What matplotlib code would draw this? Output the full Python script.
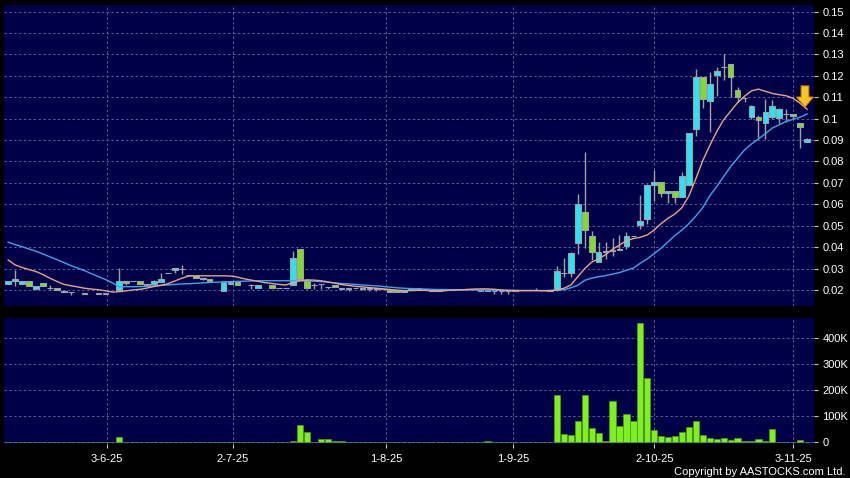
import numpy as np
import matplotlib
matplotlib.use('Agg')
import matplotlib.pyplot as plt
from matplotlib.patches import FancyArrow
from matplotlib.ticker import FuncFormatter

nan = np.nan

# daily candles (index 0 = oldest); NaN = no visible candle
opens = [0.0230, 0.0241, 0.0230, 0.0241, 0.0206, 0.0231, 0.0211, 0.0208, 0.0189, 0.0189,
         nan, 0.0187, nan, 0.0180, 0.0188, nan, 0.0200, 0.0240, 0.0242, 0.0242,
         0.0229, 0.0229, 0.0239, 0.0278, 0.0292, 0.0296, 0.0270, 0.0267, 0.0250, 0.0250,
         nan, 0.0197, 0.0229, 0.0239, nan, 0.0222, 0.0208, nan, 0.0222, 0.0208,
         0.0210, 0.0223, 0.0392, 0.0247, 0.0223, 0.0226, 0.0212, 0.0223, 0.0203, 0.0203,
         0.0208, 0.0203, 0.0210, 0.0210, 0.0203, 0.0200, 0.0200, 0.0189, 0.0200, 0.0211,
         0.0205, 0.0200, 0.0193, 0.0200, 0.0200, 0.0205, 0.0203, 0.0203, 0.0193, 0.0200,
         0.0193, 0.0193, 0.0193, 0.0193, 0.0200, 0.0200, 0.0200, 0.0200, 0.0200, 0.0200,
         0.0278, 0.0278, 0.0420, 0.0564, 0.0452, 0.0332, 0.0380, 0.0382, 0.0388, 0.0405,
         0.0452, 0.0502, 0.0530, 0.0689, 0.0705, 0.0652, 0.0661, 0.0633, 0.0689, 0.0951,
         0.1194, 0.1083, 0.1203, 0.1241, 0.1255, 0.1134, 0.1096, 0.1010, 0.1007, 0.0982,
         0.1010, 0.1002, 0.1024, 0.1024, 0.0982, 0.0891]
highs = [0.0240, 0.0293, 0.0240, 0.0241, 0.0220, 0.0231, 0.0225, 0.0208, 0.0197, 0.0189,
         nan, 0.0187, nan, 0.0187, 0.0188, nan, 0.0301, 0.0240, 0.0242, 0.0242,
         0.0229, 0.0248, 0.0278, 0.0278, 0.0301, 0.0315, 0.0272, 0.0267, 0.0257, 0.0250,
         nan, 0.0239, 0.0239, 0.0239, nan, 0.0226, 0.0222, nan, 0.0222, 0.0208,
         0.0210, 0.0382, 0.0392, 0.0250, 0.0232, 0.0230, 0.0216, 0.0223, 0.0211, 0.0210,
         0.0208, 0.0210, 0.0210, 0.0210, 0.0203, 0.0200, 0.0200, 0.0200, 0.0211, 0.0211,
         0.0205, 0.0200, 0.0200, 0.0200, 0.0205, 0.0205, 0.0205, 0.0203, 0.0200, 0.0200,
         0.0193, 0.0193, 0.0193, 0.0200, 0.0200, 0.0200, 0.0211, 0.0200, 0.0200, 0.0310,
         0.0348, 0.0376, 0.0650, 0.0846, 0.0475, 0.0425, 0.0425, 0.0443, 0.0458, 0.0470,
         0.0452, 0.0644, 0.0696, 0.0761, 0.0705, 0.0661, 0.0661, 0.0752, 0.0932, 0.1233,
         0.1194, 0.1219, 0.1241, 0.1301, 0.1255, 0.1150, 0.1096, 0.1063, 0.1017, 0.1092,
         0.1088, 0.1050, 0.1045, 0.1024, 0.0982, 0.0908]
lows = [0.0230, 0.0220, 0.0230, 0.0220, 0.0206, 0.0220, 0.0198, 0.0199, 0.0189, 0.0176,
        nan, 0.0180, nan, 0.0180, 0.0180, nan, 0.0195, 0.0225, 0.0242, 0.0229,
        0.0223, 0.0220, 0.0239, 0.0278, 0.0278, 0.0274, 0.0270, 0.0257, 0.0245, 0.0240,
        nan, 0.0197, 0.0229, 0.0223, nan, 0.0206, 0.0208, nan, 0.0208, 0.0208,
        0.0210, 0.0223, 0.0247, 0.0205, 0.0205, 0.0205, 0.0205, 0.0212, 0.0203, 0.0197,
        0.0208, 0.0200, 0.0197, 0.0197, 0.0203, 0.0189, 0.0189, 0.0189, 0.0200, 0.0205,
        0.0205, 0.0193, 0.0193, 0.0200, 0.0200, 0.0200, 0.0200, 0.0203, 0.0193, 0.0193,
        0.0182, 0.0182, 0.0182, 0.0193, 0.0200, 0.0200, 0.0200, 0.0200, 0.0195, 0.0195,
        0.0260, 0.0260, 0.0370, 0.0395, 0.0340, 0.0330, 0.0345, 0.0360, 0.0385, 0.0390,
        0.0452, 0.0485, 0.0510, 0.0617, 0.0635, 0.0605, 0.0605, 0.0633, 0.0689, 0.0920,
        0.1050, 0.0940, 0.1105, 0.1181, 0.1100, 0.1080, 0.1080, 0.1000, 0.0912, 0.0904,
        0.0998, 0.0980, 0.0985, 0.1000, 0.0862, 0.0891]
closes = [0.0240, 0.0250, 0.0240, 0.0220, 0.0220, 0.0220, 0.0211, 0.0199, 0.0197, 0.0189,
          nan, 0.0180, nan, 0.0187, 0.0180, nan, 0.0241, 0.0231, 0.0242, 0.0229,
          0.0223, 0.0242, 0.0251, 0.0278, 0.0301, 0.0296, 0.0270, 0.0257, 0.0257, 0.0243,
          nan, 0.0238, 0.0239, 0.0223, nan, 0.0222, 0.0222, nan, 0.0208, 0.0208,
          0.0210, 0.0348, 0.0250, 0.0208, 0.0223, 0.0226, 0.0212, 0.0212, 0.0211, 0.0210,
          0.0208, 0.0210, 0.0203, 0.0203, 0.0203, 0.0189, 0.0189, 0.0200, 0.0211, 0.0205,
          0.0205, 0.0193, 0.0200, 0.0200, 0.0205, 0.0203, 0.0205, 0.0203, 0.0200, 0.0193,
          0.0193, 0.0193, 0.0193, 0.0200, 0.0200, 0.0200, 0.0200, 0.0200, 0.0196, 0.0290,
          0.0278, 0.0371, 0.0600, 0.0480, 0.0379, 0.0379, 0.0375, 0.0388, 0.0392, 0.0452,
          0.0452, 0.0524, 0.0689, 0.0705, 0.0652, 0.0661, 0.0633, 0.0733, 0.0932, 0.1194,
          0.1091, 0.1163, 0.1223, 0.1241, 0.1193, 0.1100, 0.1096, 0.1057, 0.0995, 0.1029,
          0.1061, 0.1045, 0.1024, 0.1013, 0.0961, 0.0904]
# fix opens of first Sept candle
opens[79] = 0.0200

volumes = [500, 3000, 500, 500, 500, 500, 500, 500, 500, 500,
           0, 500, 0, 500, 500, 0, 22000, 1000, 500, 500,
           500, 500, 3000, 500, 500, 500, 500, 500, 500, 500,
           0, 1000, 500, 500, 0, 500, 500, 0, 500, 500,
           500, 4000, 67000, 42000, 1000, 12000, 13000, 5000, 5000, 3000,
           3000, 1000, 1000, 500, 500, 500, 500, 500, 2000, 500,
           500, 500, 500, 500, 500, 500, 500, 500, 500, 5000,
           3000, 500, 500, 3000, 500, 500, 1000, 2000, 500, 181000,
           32000, 28000, 81000, 181000, 55000, 36000, 5000, 161000, 63000, 108000,
           81000, 457000, 249000, 49000, 23000, 19000, 26000, 41000, 61000, 81000,
           28000, 18000, 13000, 18000, 10000, 17000, 5000, 5000, 12000, 5000,
           53000, 1000, 1000, 1000, 8000, 2000]

ma_short = [0.0340, 0.0317, 0.0305, 0.0295, 0.0286, 0.0272, 0.0255, 0.0240, 0.0226, 0.0220,
            0.0214, 0.0208, 0.0204, 0.0201, 0.0196, 0.0190, 0.0192, 0.0196, 0.0200, 0.0203,
            0.0209, 0.0216, 0.0222, 0.0229, 0.0242, 0.0255, 0.0265, 0.0266, 0.0266, 0.0266,
            0.0266, 0.0266, 0.0265, 0.0260, 0.0252, 0.0246, 0.0240, 0.0234, 0.0230, 0.0226,
            0.0223, 0.0235, 0.0243, 0.0247, 0.0246, 0.0243, 0.0238, 0.0232, 0.0225, 0.0221,
            0.0217, 0.0214, 0.0211, 0.0208, 0.0205, 0.0202, 0.0199, 0.0197, 0.0197, 0.0198,
            0.0198, 0.0196, 0.0195, 0.0197, 0.0199, 0.0200, 0.0202, 0.0204, 0.0205, 0.0205,
            0.0203, 0.0200, 0.0198, 0.0197, 0.0197, 0.0197, 0.0197, 0.0196, 0.0196, 0.0200,
            0.0208, 0.0223, 0.0262, 0.0300, 0.0330, 0.0345, 0.0365, 0.0390, 0.0410, 0.0430,
            0.0440, 0.0446, 0.0457, 0.0480, 0.0510, 0.0535, 0.0555, 0.0585, 0.0640, 0.0720,
            0.0805, 0.0875, 0.0940, 0.0995, 0.1035, 0.1075, 0.1105, 0.1130, 0.1138, 0.1128,
            0.1118, 0.1112, 0.1107, 0.1095, 0.1072, 0.1044]
ma_long = [0.0423, 0.0412, 0.0402, 0.0391, 0.0381, 0.0368, 0.0355, 0.0342, 0.0328, 0.0314,
           0.0302, 0.0290, 0.0276, 0.0262, 0.0249, 0.0233, 0.0215, 0.0215, 0.0215, 0.0216,
           0.0217, 0.0219, 0.0221, 0.0223, 0.0226, 0.0228, 0.0229, 0.0231, 0.0233, 0.0235,
           0.0236, 0.0238, 0.0239, 0.0240, 0.0241, 0.0242, 0.0243, 0.0243, 0.0243, 0.0243,
           0.0243, 0.0243, 0.0243, 0.0242, 0.0241, 0.0239, 0.0236, 0.0233, 0.0230, 0.0228,
           0.0226, 0.0223, 0.0221, 0.0219, 0.0216, 0.0213, 0.0210, 0.0208, 0.0206, 0.0205,
           0.0204, 0.0203, 0.0202, 0.0202, 0.0201, 0.0201, 0.0200, 0.0200, 0.0200, 0.0199,
           0.0199, 0.0198, 0.0198, 0.0198, 0.0197, 0.0197, 0.0197, 0.0197, 0.0198, 0.0199,
           0.0201, 0.0210, 0.0222, 0.0245, 0.0255, 0.0262, 0.0267, 0.0274, 0.0281, 0.0292,
           0.0302, 0.0325, 0.0345, 0.0370, 0.0395, 0.0425, 0.0455, 0.0480, 0.0510, 0.0545,
           0.0585, 0.0640, 0.0683, 0.0730, 0.0776, 0.0815, 0.0854, 0.0882, 0.0905, 0.0930,
           0.0956, 0.0972, 0.0987, 0.0997, 0.1007, 0.1022]

date_labels = ['3-6-25', '2-7-25', '1-8-25', '1-9-25', '2-10-25', '3-11-25']
date_pos = [14.2, 32.3, 54.4, 72.7, 93.0, 113.0]
price_ticks = [0.02, 0.03, 0.04, 0.05, 0.06, 0.07, 0.08, 0.09, 0.10, 0.11, 0.12, 0.13, 0.14, 0.15]
vol_ticks = [0, 100000, 200000, 300000, 400000]

o = np.array(opens, float)
h = np.array(highs, float)
l = np.array(lows, float)
c = np.array(closes, float)
v = np.array(volumes, float)
x = np.arange(len(o))

BG = '#000048'
GRID = '#5c5c90'
CYAN = '#2ae4f4'
GREEN = '#84dc22'
EDGE = '#9aa2aa'

plt.rcParams['font.family'] = ['Liberation Sans', 'DejaVu Sans']

fig = plt.figure(figsize=(8.5, 4.78), dpi=100, facecolor='black')
ax = fig.add_axes([4/850, 1-306/478, 810/850, 301/478], facecolor=BG)
axv = fig.add_axes([4/850, 1-444/478, 810/850, 126/478], facecolor=BG)

for a in (ax, axv):
    for s in a.spines.values():
        s.set_visible(False)
    a.set_xlim(-0.6, 116.0)
    a.yaxis.tick_right()
    a.tick_params(axis='y', colors='#c8c8c8', labelcolor='white', length=3, width=0.8,
                  pad=3, labelsize=8)
    a.set_xticks(date_pos)
    for xp in date_pos:
        a.axvline(xp, color=GRID, lw=0.7, dashes=(2.5, 2.5), zorder=0)

# price panel
ax.set_ylim(0.0125, 0.1531)
ax.set_yticks(price_ticks)
ax.yaxis.set_major_formatter(FuncFormatter(lambda val, p: '%g' % round(val, 2)))
for yp in price_ticks:
    ax.axhline(yp, color=GRID, lw=0.7, dashes=(2.5, 2.5), zorder=0)
ax.tick_params(axis='x', length=0, labelbottom=False)

ok = ~np.isnan(o)
ax.vlines(x[ok], l[ok], h[ok], color='#a0a0a0', lw=1, zorder=2)
up = ok & (c >= o)
dn = ok & (c < o)
ax.bar(x[up], (c - o)[up], bottom=o[up], width=0.82, color=CYAN, edgecolor=EDGE, lw=0.8, zorder=3)
ax.bar(x[dn], (o - c)[dn], bottom=c[dn], width=0.82, color=GREEN, edgecolor=EDGE, lw=0.8, zorder=3)

ax.plot(x, ma_long, color='#3ea4ea', lw=1.0, zorder=4)
ax.plot(x, ma_short, color='#eaa486', lw=1.0, zorder=4)

ax.add_patch(FancyArrow(114.7, 0.1153, 0, -0.0052, width=1.1, head_width=2.4, head_length=0.0046,
                        length_includes_head=False, facecolor='#f7c51c', edgecolor='#d08a00',
                        lw=0.8, zorder=6))

# volume panel
axv.set_ylim(-6000, 478000)
axv.set_yticks(vol_ticks)
axv.set_yticklabels(['0', '100K', '200K', '300K', '400K'])
for yp in vol_ticks:
    axv.axhline(yp, color=GRID, lw=0.7, dashes=(2.5, 2.5), zorder=0)
axv.bar(x, v, width=0.9, color='#7ef020', edgecolor='#4c9c10', lw=0.5, zorder=3)
axv.set_xticklabels(date_labels)
axv.tick_params(axis='x', colors='#c8c8c8', labelcolor='white', length=3, width=0.8,
                pad=4, labelsize=8)

fig.text(845/850, 1-472/478, 'Copyright by AASTOCKS.com Ltd.', color='white', fontsize=8,
         ha='right', va='center')

fig.savefig('out.png', dpi=100, facecolor='black')
